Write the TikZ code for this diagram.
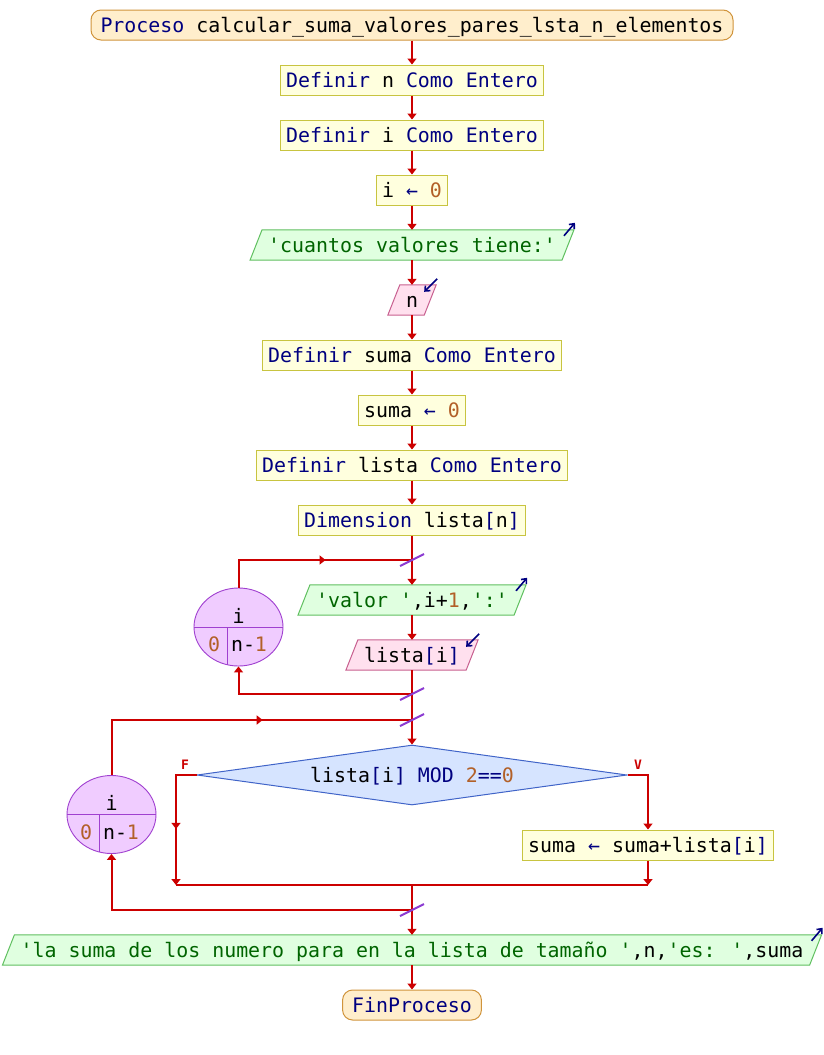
\documentclass[tikz,border=0pt]{standalone}
\usepackage{fontspec}
\newfontfamily\psefont{DejaVu Sans Mono}[Ligatures=TeXOff]
\usetikzlibrary{arrows.meta,shapes.geometric,calc,decorations.markings}

\definecolor{flowred}{RGB}{204,0,0}
\definecolor{kwcol}{RGB}{0,0,128}
\definecolor{strcol}{RGB}{0,100,0}
\definecolor{numcol}{RGB}{178,96,40}
\definecolor{procfill}{RGB}{255,255,222}
\definecolor{procline}{RGB}{200,196,64}
\definecolor{termfill}{RGB}{255,238,204}
\definecolor{termline}{RGB}{208,148,60}
\definecolor{outfill}{RGB}{224,255,224}
\definecolor{outline}{RGB}{96,192,96}
\definecolor{infill}{RGB}{255,224,238}
\definecolor{inline}{RGB}{200,96,144}
\definecolor{condfill}{RGB}{214,228,255}
\definecolor{condline}{RGB}{64,100,200}
\definecolor{loopfill}{RGB}{240,204,255}
\definecolor{loopline}{RGB}{160,64,208}
\definecolor{slashcol}{RGB}{140,60,210}

\newcommand\kw[1]{\textcolor{kwcol}{#1}}
\newcommand\tx[1]{\textcolor{strcol}{#1}}
\newcommand\nb[1]{\textcolor{numcol}{#1}}

\pgfdeclarelayer{paper}
\pgfdeclarelayer{bg}
\pgfsetlayers{paper,bg,main}

% parallelogram behind a text node: #1 node, #2 fill, #3 border
\newcommand\drawpara[3]{%
  \begin{pgfonlayer}{bg}
    \draw[draw=#3, fill=#2, line width=1pt]
      ($(#1.south west)+(-12,0)$) -- (#1.north west) --
      ($(#1.north east)+(12,0)$) -- (#1.south east) -- cycle;
  \end{pgfonlayer}}
% small output / input markers at the upper right corner
\newcommand\outicon[1]{%
  \draw[icon] ($(#1.north east)+(2,6)$) -- ($(#1.north east)+(13,-7)$);}
\newcommand\inicon[1]{%
  \draw[icon] ($(#1.north east)+(13,-6)$) -- ($(#1.north east)+(0,7)$);}
% junction tick on the main line
\newcommand\tick[1]{%
  \draw[slashcol, line width=2pt] ($(#1)+(-12,6)$) -- ($(#1)+(12,-6)$);}

\tikzset{
  tri/.tip={Triangle[length=6pt,width=9pt]},
  base/.style={font=\psefont\fontsize{19.9}{24}\selectfont,
    text height=14.5pt, text depth=0pt, inner ysep=0pt, minimum height=30pt},
  procbox/.style={base, rectangle, draw=procline, fill=procfill,
    line width=1pt, inner xsep=6pt},
  termbox/.style={base, rectangle, rounded corners=10pt, draw=termline,
    fill=termfill, line width=1pt, inner xsep=9.5pt},
  paratext/.style={base, rectangle, inner xsep=6pt},
  condbox/.style={base, diamond, aspect=7, minimum width=430pt,
    minimum height=60pt, inner sep=0pt, draw=condline, fill=condfill,
    line width=1pt},
  loopnode/.style={ellipse, minimum width=89pt, minimum height=78pt,
    inner sep=0pt, draw=loopline, fill=loopfill, line width=0.9pt},
  looptext/.style={base, minimum height=0pt, inner sep=0pt},
  brlabel/.style={font=\psefont\bfseries\fontsize{13}{13}\selectfont,
    text=flowred, inner sep=0pt},
  flow/.style={draw=flowred, line width=2pt, -tri},
  link/.style={draw=flowred, line width=2pt},
  midtip/.style={postaction={decorate}, decoration={markings,
    mark=at position #1 with {\arrow[flowred]{tri}}}},
  icon/.style={draw=kwcol, line width=1.6pt,
    -{Straight Barb[length=4pt,width=7pt]}},
}

\begin{document}
\begin{tikzpicture}[x=1pt,y=-1pt]
\begin{pgfonlayer}{paper}
  \fill[white] (0,0) rectangle (824,1055);
\end{pgfonlayer}
\useasboundingbox (0,0) rectangle (824,1055);

% main column
\node[termbox] (p0) at (412,25)
  {\kw{Proceso} calcular\_suma\_valores\_pares\_lsta\_n\_elementos};
\node[procbox] (d1) at (412,80) {\kw{Definir} n \kw{Como} \kw{Entero}};
\node[procbox] (d2) at (412,135) {\kw{Definir} i \kw{Como} \kw{Entero}};
\node[procbox] (a1) at (412,190) {i \kw{←} \nb{0}};
\node[paratext] (o1) at (412,245) {\tx{'cuantos valores tiene:'}};
\node[paratext] (in1) at (412,300) {n};
\node[procbox] (d3) at (412,355) {\kw{Definir} suma \kw{Como} \kw{Entero}};
\node[procbox] (a2) at (412,410) {suma \kw{←} \nb{0}};
\node[procbox] (d4) at (412,465) {\kw{Definir} lista \kw{Como} \kw{Entero}};
\node[procbox] (dim) at (412,520) {\kw{Dimension} lista\kw{[}n\kw{]}};
\node[paratext] (o2) at (412,600) {\tx{'valor '},i+\nb{1},\tx{':'}};
\node[paratext] (in2) at (412,655) {lista\kw{[}i\kw{]}};
\node[condbox] (cond) at (412,775)
  {lista\kw{[}i\kw{]} \kw{MOD} \nb{2}\kw{==}\nb{0}};
\node[procbox] (upd) at (648,845) {suma \kw{←} suma+lista\kw{[}i\kw{]}};
\node[paratext] (o3) at (412,950)
  {\tx{'la suma de los numero para en la lista de tamaño '},n,\tx{'es: '},suma};
\node[termbox] (fin) at (412,1005) {\kw{FinProceso}};

% input / output shapes
\drawpara{o1}{outfill}{outline}
\drawpara{o2}{outfill}{outline}
\drawpara{o3}{outfill}{outline}
\drawpara{in1}{infill}{inline}
\drawpara{in2}{infill}{inline}
\outicon{o1}
\outicon{o2}
\outicon{o3}
\inicon{in1}
\inicon{in2}

% loop counters
\node[loopnode] (L1) at (238.5,627) {};
\draw[loopline, line width=0.9pt] (L1.west) -- (L1.east);
\draw[loopline, line width=0.9pt] ($(L1.center)+(-11,0)$) -- ($(L1.center)+(-11,37.6)$);
\node[looptext] (L1v) at ($(L1.center)+(0,-11)$) {i};
\node[looptext] (L1a) at ($(L1.center)+(-24.5,17.5)$) {\nb{0}};
\node[looptext] (L1b) at ($(L1.center)+(10.5,17.5)$) {n-\nb{1}};

\node[loopnode] (L2) at (111.5,814.5) {};
\draw[loopline, line width=0.9pt] (L2.west) -- (L2.east);
\draw[loopline, line width=0.9pt] ($(L2.center)+(-12,0)$) -- ($(L2.center)+(-12,37.4)$);
\node[looptext] (L2v) at ($(L2.center)+(0,-11)$) {i};
\node[looptext] (L2a) at ($(L2.center)+(-25.5,17.5)$) {\nb{0}};
\node[looptext] (L2b) at ($(L2.center)+(9.5,17.5)$) {n-\nb{1}};

% branch labels
\node[brlabel] (lF) at (185,765) {F};
\node[brlabel] (lV) at (638,765) {V};

% junction points
\coordinate (jA) at (412,560);
\coordinate (jB) at (412,694);
\coordinate (jC) at (412,720);
\coordinate (jM) at (412,885);
\coordinate (jD) at (412,910);
\coordinate (fC) at (176,775);
\coordinate (fB) at (176,885);
\coordinate (vB) at (648,885);

% connectors
\draw[flow] (p0.south) -- (d1.north);
\draw[flow] (d1.south) -- (d2.north);
\draw[flow] (d2.south) -- (a1.north);
\draw[flow] (a1.south) -- (o1.north);
\draw[flow] (o1.south) -- (in1.north);
\draw[flow] (in1.south) -- (d3.north);
\draw[flow] (d3.south) -- (a2.north);
\draw[flow] (a2.south) -- (d4.north);
\draw[flow] (d4.south) -- (dim.north);
\draw[flow] (dim.south) -- (o2.north);
\draw[flow] (o2.south) -- (in2.north);
\draw[link, midtip=0.57] (L1.north) |- (jA);
\draw[flow] (jB) -| (L1.south);
\draw[link] (in2.south) -- (jC);
\draw[flow] (jC) -- (cond.north);
\draw[link, midtip=0.58] (L2.north) |- (jC);
\draw[flow, midtip=0.57] (cond.west) -- (fC) -- (fB);
\draw[flow] (cond.east) -| (upd.north);
\draw[flow] (upd.south) -- (vB);
\draw[link] (fB) -- (vB);
\draw[flow] (jM) -- (o3.north);
\draw[flow] (jD) -| (L2.south);
\draw[flow] (o3.south) -- (fin.north);

% junction ticks
\tick{jA}
\tick{jB}
\tick{jC}
\tick{jD}
\end{tikzpicture}
\end{document}
